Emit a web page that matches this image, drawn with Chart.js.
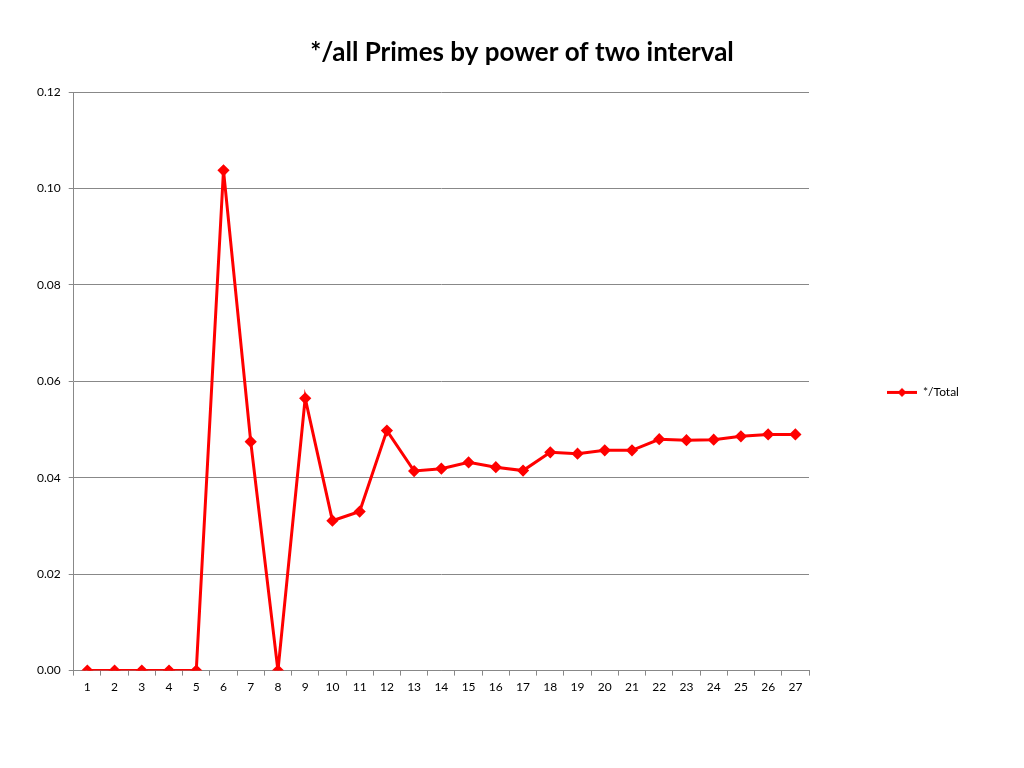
<!DOCTYPE html>
<html>
<head>
<meta charset="utf-8">
<script src="https://cdn.jsdelivr.net/npm/chart.js@4/dist/chart.umd.min.js"></script>
<style>
  html, body { margin: 0; padding: 0; background: #fff; }
  #wrap { width: 1024px; height: 768px; }
</style>
</head>
<body>
<div id="wrap"><canvas id="chart"></canvas></div>
<script>
// power-of-two interval index
const intervals = ['1','2','3','4','5','6','7','8','9','10','11','12','13','14','15','16','17','18','19','20','21','22','23','24','25','26','27'];
// share of primes per interval
const totalShare = [0, 0, 0, 0, 0, 0.1038, 0.0475, 0, 0.0565, 0.0311, 0.0330, 0.0498, 0.0414, 0.0419, 0.0432, 0.0422, 0.0415, 0.0453, 0.0450, 0.0457, 0.0457, 0.0480, 0.0478, 0.0479, 0.0486, 0.0490, 0.0490];
const seriesName = '*/Total';
const titleText = '*/all Primes by power of two interval';

const FONT = "'Lato', 'DejaVu Sans', sans-serif";
const RED = '#ff0000';

// legend marker: short line with a diamond in the middle
function makeLegendMarker() {
    const c = document.createElement('canvas');
    c.width = 30;
    c.height = 11;
    const g = c.getContext('2d');
    g.strokeStyle = RED;
    g.lineWidth = 3;
    g.beginPath();
    g.moveTo(0, 5.5);
    g.lineTo(30, 5.5);
    g.stroke();
    g.fillStyle = RED;
    g.beginPath();
    g.moveTo(15, 1);
    g.lineTo(19.5, 5.5);
    g.lineTo(15, 10);
    g.lineTo(10.5, 5.5);
    g.closePath();
    g.fill();
    return c;
}
const legendMarker = makeLegendMarker();

// widen the legend box so there is blank room right of the text
const legendRoom = {
    id: 'legendRoom',
    beforeLayout(chart) {
        const lg = chart.legend;
        if (lg && !lg._roomy) {
            const fit = lg.fit;
            lg.fit = function () {
                fit.call(this);
                this.width = Math.max(this.width, 160);
            };
            lg._roomy = true;
        }
    }
};

new Chart(document.getElementById('chart').getContext('2d'), {
    type: 'line',
    data: {
        labels: intervals,
        datasets: [{
            label: seriesName,
            data: totalShare,
            borderColor: RED,
            backgroundColor: RED,
            borderWidth: 3,
            pointStyle: 'rectRot',
            pointRadius: 4,
            pointHoverRadius: 4,
            tension: 0
        }]
    },
    plugins: [legendRoom],
    options: {
        responsive: true,
        maintainAspectRatio: false,
        animation: false,
        layout: { padding: { top: 10, right: 9, bottom: 70, left: 29 } },
        plugins: {
            title: {
                display: true,
                text: titleText,
                color: '#000',
                font: { family: FONT, size: 26, weight: 'bold' },
                padding: { top: 27, bottom: 24 }
            },
            legend: {
                position: 'right',
                fullSize: false,
                // blank legend title only nudges the entry down a little
                title: {
                    display: true,
                    text: '',
                    font: { family: FONT, size: 10 },
                    padding: { top: 10, bottom: 0 }
                },
                labels: {
                    color: '#000',
                    font: { family: FONT, size: 12 },
                    usePointStyle: true,
                    pointStyleWidth: 30,
                    padding: 32,
                    generateLabels(chart) {
                        return Chart.defaults.plugins.legend.labels.generateLabels(chart).map(l => {
                            l.pointStyle = legendMarker;
                            return l;
                        });
                    }
                }
            },
            tooltip: { enabled: false }
        },
        scales: {
            x: {
                offset: true,
                grid: {
                    display: true,
                    drawOnChartArea: false,
                    offset: true,
                    color: '#888',
                    tickLength: 5
                },
                border: { color: '#888' },
                ticks: { color: '#000', font: { family: FONT, size: 12 }, padding: 4 }
            },
            y: {
                min: 0,
                max: 0.12,
                grid: { color: '#888', tickLength: 5 },
                border: { color: '#888' },
                ticks: {
                    stepSize: 0.02,
                    color: '#000',
                    font: { family: FONT, size: 12 },
                    padding: 8,
                    callback: v => v.toFixed(2)
                }
            },
            // empty axis that only keeps a gap between plot and legend
            gap: {
                type: 'linear',
                position: 'right',
                display: true,
                grid: { display: false },
                border: { display: false },
                ticks: { display: false },
                afterFit(scale) { scale.width = 46; }
            }
        }
    }
});
</script>
</body>
</html>
